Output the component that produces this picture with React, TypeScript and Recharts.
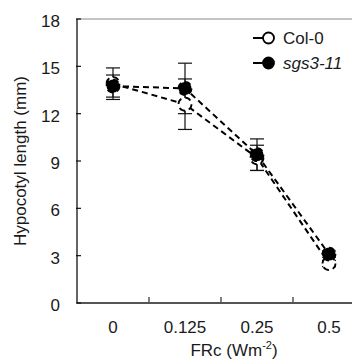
import { LineChart, Line, XAxis, YAxis, ErrorBar, ReferenceLine } from "recharts";

// FRc fluence rates (category labels)
const doses = ["0", "0.125", "0.25", "0.5"];

// hypocotyl length in mm, with error bars
const col0 = [13.9, 12.6, 9.2, 2.5];
const col0Err = [1.0, 1.6, 0.8, 0.2];
const sgs3 = [13.75, 13.6, 9.4, 3.1];
const sgs3Err = [0.7, 1.6, 1.0, 0.2];

const yTicks = [0, 3, 6, 9, 12, 15, 18];
const xTicks = [0, 0.5, 1, 1.5, 2, 2.5, 3];

const data = doses.map((d, i) => ({
  i,
  dose: d,
  col0: col0[i],
  col0Err: col0Err[i],
  sgs3: sgs3[i],
  sgs3Err: sgs3Err[i],
}));

const FONT = "'Liberation Sans', Arial, Helvetica, sans-serif";
const TEXT = "#1a1a1a";

function XTick(props: any) {
  const { x, y, payload } = props;
  const v = payload.value;
  if (Number.isInteger(v)) {
    return (
      <text x={x} y={y + 30} textAnchor="middle" fontSize={17} fontFamily={FONT} fill={TEXT}>
        {doses[v]}
      </text>
    );
  }
  // boundary tick pointing into the plot
  return <line x1={x} x2={x} y1={y - 1} y2={y - 6} stroke="#555" strokeWidth={1.5} />;
}

function YTick(props: any) {
  const { x, y, payload } = props;
  return (
    <g>
      <line x1={x - 1} x2={x + 4} y1={y} y2={y} stroke="#111" strokeWidth={1.2} />
      <text x={x - 17} y={y + 8} textAnchor="end" fontSize={17} fontFamily={FONT} fill={TEXT}>
        {payload.value}
      </text>
    </g>
  );
}

function LegendBox() {
  const rows = [
    { name: "Col-0", fill: "#fff", italic: false },
    { name: "sgs3-11", fill: "#000", italic: true },
  ];
  return (
    <svg width={115} height={50} style={{ position: "absolute", left: 243, top: 20 }}>
      {rows.map((r, k) => {
        const cy = 10 + k * 25;
        return (
          <g key={r.name}>
            <line x1={2} x2={12} y1={cy} y2={cy} stroke="#000" strokeWidth={2} />
            <circle cx={17.5} cy={cy} r={5.5} fill={r.fill} stroke="#000" strokeWidth={1.8} />
            <text
              x={32}
              y={cy + 6}
              fontSize={17}
              fontFamily={FONT}
              fill={TEXT}
              fontStyle={r.italic ? "italic" : "normal"}
            >
              {r.name}
            </text>
          </g>
        );
      })}
    </svg>
  );
}

export default function App() {
  return (
    <div style={{ position: "relative", width: 360, height: 353 }}>
      <LineChart
        width={360}
        height={353}
        data={data}
        margin={{ top: 11, right: 3, bottom: 0, left: 0 }}
      >
        <ReferenceLine y={18} stroke="#c4c4c4" strokeWidth={2} />
        <XAxis
          type="number"
          dataKey="i"
          domain={[-0.5, 3.5]}
          ticks={xTicks}
          interval={0}
          height={58}
          tickSize={0}
          tickMargin={0}
          tickLine={false}
          axisLine={{ stroke: "#555", strokeWidth: 2 }}
          tick={<XTick />}
          label={(p: any) => {
            const vb = p.viewBox;
            return (
              <text x={226} y={vb.y + 53} textAnchor="middle" fontSize={17} fontFamily={FONT} fill={TEXT}>
                FRc (Wm
                <tspan fontSize={11} dy={-7}>-2</tspan>
                <tspan dy={7}>)</tspan>
              </text>
            );
          }}
        />
        <YAxis
          type="number"
          domain={[0, 18]}
          ticks={yTicks}
          interval={0}
          width={69}
          tickSize={0}
          tickMargin={0}
          tickLine={false}
          axisLine={{ stroke: "#111", strokeWidth: 1.3 }}
          tick={<YTick />}
          label={(p: any) => {
            const vb = p.viewBox;
            const cx = 12;
            const cy = vb.y + vb.height / 2;
            return (
              <text
                x={cx}
                y={cy}
                transform={`rotate(-90 ${cx} ${cy})`}
                textAnchor="middle"
                dominantBaseline="central"
                fontSize={17}
                fontFamily={FONT}
                fill={TEXT}
              >
                Hypocotyl length (mm)
              </text>
            );
          }}
        />
        <Line
          dataKey="col0"
          name="Col-0"
          stroke="#000"
          strokeWidth={2}
          strokeDasharray="6 4"
          dot={{ r: 6.5, fill: "#fff", stroke: "#000", strokeWidth: 1.8 }}
          isAnimationActive={false}
        >
          <ErrorBar dataKey="col0Err" width={7} stroke="#111" strokeWidth={1.2} />
        </Line>
        <Line
          dataKey="sgs3"
          name="sgs3-11"
          stroke="#000"
          strokeWidth={2}
          strokeDasharray="6 4"
          dot={{ r: 6.5, fill: "#000", stroke: "#000", strokeWidth: 1.8 }}
          isAnimationActive={false}
        >
          <ErrorBar dataKey="sgs3Err" width={7} stroke="#111" strokeWidth={1.2} />
        </Line>
      </LineChart>
      <LegendBox />
    </div>
  );
}
